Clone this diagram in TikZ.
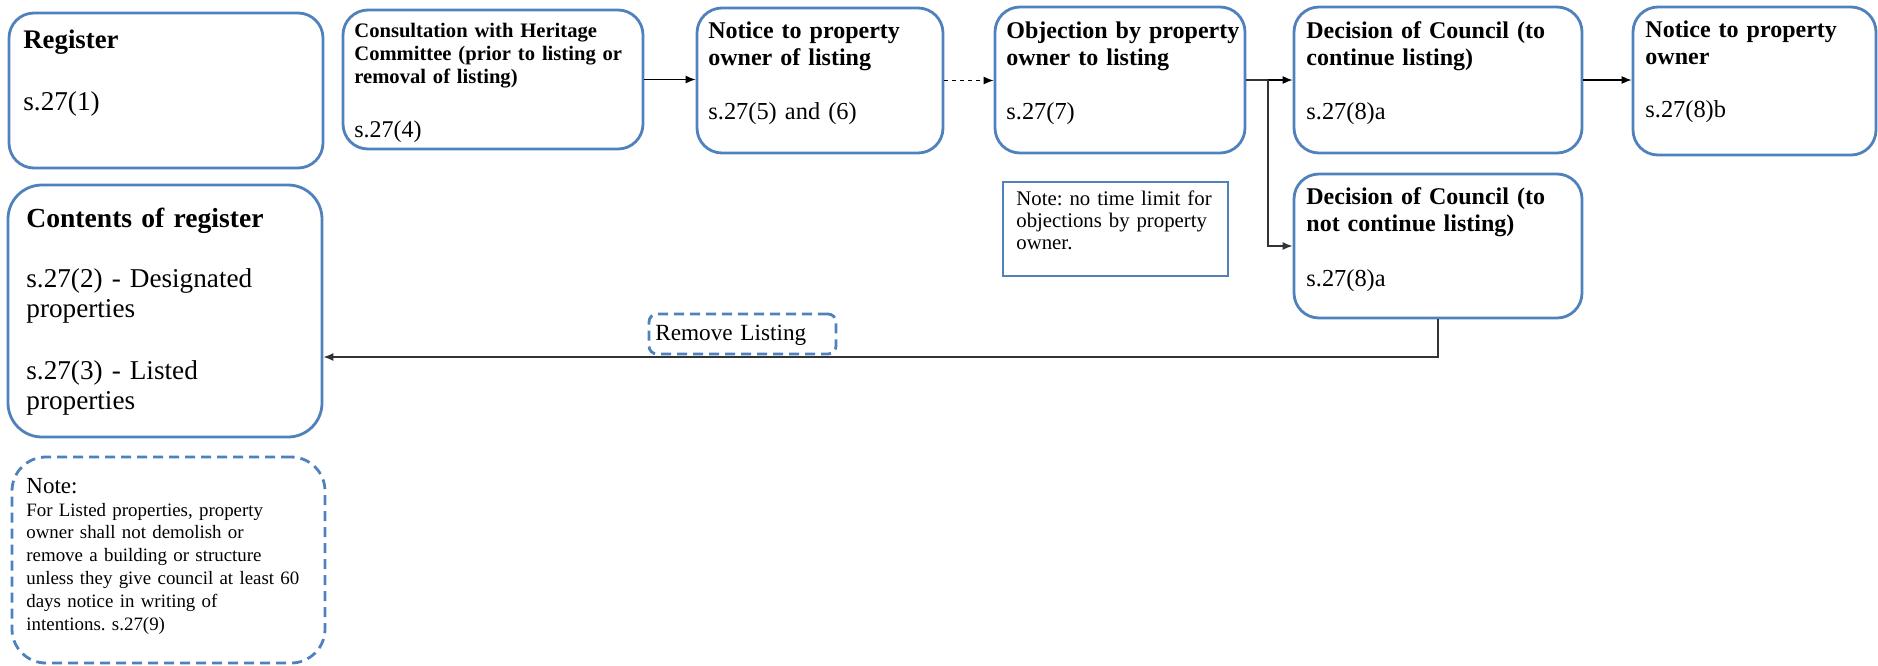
\documentclass[tikz,border=0pt]{standalone}
\usepackage{fontspec}
\setmainfont{Liberation Serif}
\usetikzlibrary{arrows.meta,fit}
\definecolor{boxblue}{RGB}{79,129,189}
\frenchspacing

\begin{document}
\begin{tikzpicture}[x=0.5pt,y=-0.5pt,
  box/.style={draw=boxblue, line width=1.4pt, rounded corners=12.5pt, inner sep=0pt},
  bigbox/.style={box, rounded corners=17pt},
  notebox/.style={draw=boxblue, line width=1.4pt, inner sep=0pt},
  dbox/.style={draw=boxblue, line width=1.4pt, dash pattern=on 5pt off 3pt, inner sep=0pt},
  lbl/.style={anchor=base west, inner sep=0pt, align=left, text width=150pt},
  bigh/.style={lbl, font=\fontsize{13.4}{15}\selectfont\bfseries},
  bigt/.style={lbl, font=\fontsize{13.6}{15}\selectfont},
  midh/.style={lbl, font=\fontsize{12}{13.5}\selectfont\bfseries},
  midt/.style={lbl, font=\fontsize{12.2}{13.5}\selectfont},
  smh/.style={lbl, font=\fontsize{10.3}{11.5}\selectfont\bfseries},
  notet/.style={lbl, font=\fontsize{10.4}{11}\selectfont},
  arr/.style={-{Latex[length=5pt,width=4pt]}, line width=0.6pt},
  link/.style={line width=0.7pt, draw=black!80}
]
\path[use as bounding box] (0,0) rectangle (1878,665);

% ---- register column ----
\node[box, fit={(9,13) (323,168)}] (reg) {};
\node[bigh] (regh) at (23,48) {Register};
\node[bigt] (regt) at (23,110) {s.27(1)};

\node[bigbox, fit={(8,185) (322,437)}] (cont) {};
\node[bigh, font=\fontsize{13.8}{15}\selectfont\bfseries] (conth) at (26,227) {Contents of register};
\node[bigt] (contd) at (26,287) {s.27(2) - Designated\\properties};
\node[bigt] (contl) at (26,379) {s.27(3) - Listed\\properties};

\node[dbox, rounded corners=17pt, fit={(12,457) (325,663)}] (lnote) {};
\node[lbl, font=\fontsize{11.5}{12}\selectfont] (lnoteh) at (26,493) {Note:};
\node[lbl, font=\fontsize{9.45}{11.4}\selectfont] (lnotet) at (26,516)
  {For Listed properties, property\\owner shall not demolish or\\remove a building or structure\\unless they give council at least 60\\days notice in writing of\\intentions. s.27(9)};

% ---- listing process ----
\node[box, fit={(343,10) (643,149)}] (cons) {};
\node[smh] (consh) at (354,37) {Consultation with Heritage\\Committee (prior to listing or\\removal of listing)};
\node[midt, font=\fontsize{12}{13.5}\selectfont] (const) at (354,137) {s.27(4)};

\node[box, fit={(697,8) (943,153)}] (notice) {};
\node[midh] (noticeh) at (708,38) {Notice to property\\owner of listing};
\node[midt] (noticet) at (708,119) {s.27(5) and (6)};

\node[box, fit={(995,7) (1245,153)}] (obj) {};
\node[midh] (objh) at (1006,38) {Objection by property\\owner to listing};
\node[midt] (objt) at (1006,119) {s.27(7)};

\node[notebox, fit={(1003,182) (1228,276)}] (tnote) {};
\node[notet] (tnotet) at (1016,205) {Note: no time limit for\\objections by property\\owner.};

\node[box, fit={(1294,7) (1582,153)}] (dec) {};
\node[midh] (dech) at (1306,38) {Decision of Council (to\\continue listing)};
\node[midt] (dect) at (1306,119) {s.27(8)a};

\node[box, fit={(1294,174) (1582,318)}] (decn) {};
\node[midh] (decnh) at (1306,204) {Decision of Council (to\\not continue listing)};
\node[midt] (decnt) at (1306,286) {s.27(8)a};

\node[box, fit={(1633,7) (1876,155)}] (own) {};
\node[midh] (ownh) at (1645,37) {Notice to property\\owner};
\node[midt] (ownt) at (1645,117) {s.27(8)b};

\node[dbox, rounded corners=4pt, fit={(649,314) (836,354)}] (rm) {};
\node[lbl, font=\fontsize{11.6}{13}\selectfont] (rmt) at (655,340) {Remove Listing};

% ---- connectors ----
\coordinate (branch) at (1268,80);
\coordinate (back) at (1438,357);

\draw[arr] (cons.east) -- (cons.east -| notice.west);
\draw[arr, dash pattern=on 2pt off 2pt] (notice.east) -- (notice.east -| obj.west);
\draw[arr] (obj.east) -- (obj.east -| dec.west);
\draw[link] (obj.east) -- (branch);
\draw[arr, link] (branch) |- (decn.west);
\draw[arr] (dec.east) -- (dec.east -| own.west);
\draw[arr, link] (decn.south) -- (back) -- (back -| cont.east);
\end{tikzpicture}
\end{document}
